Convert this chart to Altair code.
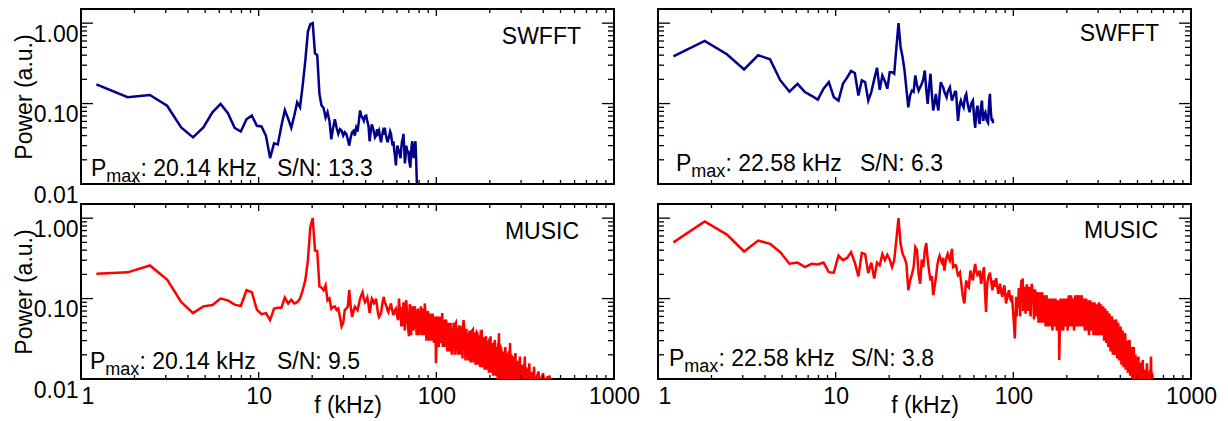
import altair as alt
import pandas as pd

# FFT bin width in kHz (10 MHz sampling, 16384-point window)
DF_KHZ = 0.6103515625

# ---------------- SWFFT, shot A (Pmax 20.14 kHz) ----------------
swfft_a_bins = list(range(2, 129))
swfft_a_power = [
    .173, .12, .128, .094, .0506, .038, .0506, .078, .099, .076,
    .05, .045, .064, .071, .053, .052, .04, .021, .032, .031,
    .053, .083, .065, .05, .071, .104, .09, .17, .345, .78,
    .97, 1.0, .42, .40, .133, .095, .088, .067, .078, .061,
    .036, .05, .064, .05, .042, .048, .046, .04, .044, .042,
    .036, .03, .038, .044, .046, .04, .05, .045, .06, .082,
    .07, .066, .061, .07, .071, .06, .053, .034, .045, .055,
    .05, .044, .038, .04, .048, .043, .046, .038, .033, .04,
    .045, .041, .05, .042, .037, .033, .036, .04, .045, .042,
    .035, .03, .034, .026, .022, .017, .024, .03, .027, .026,
    .023, .021, .028, .034, .036, .042, .028, .018, .022, .03,
    .027, .024, .026, .02, .018, .016, .024, .03, .034, .027,
    .021, .026, .03, .034, .022, .012, .008,
]

# ---------------- SWFFT, shot B (Pmax 22.58 kHz) ----------------
swfft_b_bins = list(range(2, 127))
swfft_b_power = [
    .387, .60, .41, .266, .40, .355, .194, .141, .176, .139,
    .125, .112, .153, .185, .12, .109, .176, .21, .254, .24,
    .126, .194, .185, .109, .139, .20, .279, .148, .224, .19,
    .153, .245, .245, .235, .5, 1.0, .506, .38, .258, .15,
    .09, .126, .145, .14, .224, .17, .145, .16, .176, .2,
    .258, .15, .099, .16, .235, .13, .082, .1, .132, .1,
    .082, .13, .185, .17, .16, .14, .13, .12, .14, .15,
    .16, .13, .109, .12, .13, .14, .139, .09, .061, .08,
    .1, .109, .1, .095, .09, .11, .125, .132, .11, .095,
    .085, .078, .09, .1, .105, .109, .08, .06, .05, .07,
    .085, .094, .075, .06, .056, .075, .095, .109, .08, .061,
    .07, .075, .078, .07, .062, .06, .058, .08, .11, .132,
    .09, .07, .061, .065, .057,
]

# ---------------- MUSIC, shot A ----------------
music_a_bins = list(range(2, 101))
music_a_power = [
    .204, .212, .258, .172, .091, .066, .08, .083, .10, .095,
    .084, .081, .127, .12, .073, .064, .066, .054, .075, .077,
    .077, .103, .087, .097, .087, .09, .10, .127, .17, .298,
    .77, 1.0, .396, .39, .142, .137, .127, .146, .095, .10,
    .075, .079, .08, .072, .075, .059, .045, .05, .072, .075,
    .079, .127, .08, .059, .07, .079, .075, .072, .085, .10,
    .11, .12, .1, .09, .095, .103, .085, .066, .08, .10,
    .095, .087, .09, .10, .08, .065, .059, .062, .066, .08,
    .095, .105, .09, .085, .079, .072, .068, .075, .08, .087,
    .075, .068, .062, .07, .072, .075, .065, .058, .054,
]
music_a_tail = [
    (102, .07), (103, .079), (105, .06), (106, .045), (108, .07), (110, .087),
    (112, .066), (113, .05), (115, .034), (117, .079), (119, .065), (121, .057),
    (123, .075), (125, .062), (128, .05), (130, .045), (133, .059), (135, .07),
    (137, .051), (139, .065), (141, .087), (143, .06), (145, .043), (148, .05),
    (150, .034), (152, .045), (155, .054), (158, .04), (160, .045), (163, .0157),
    (165, .035), (167, .049), (170, .04), (172, .037), (175, .05), (177, .066),
    (179, .045), (181, .034), (184, .04), (187, .045), (190, .035), (193, .0305),
    (196, .042), (198, .039), (201, .028), (203, .024), (206, .038), (210, .049),
    (212, .035), (214, .0305), (218, .04), (221, .045), (224, .03), (228, .034),
    (231, .045), (233, .054), (237, .03), (240, .021), (243, .03), (246, .037),
    (250, .03), (254, .025), (258, .033), (263, .041), (267, .028), (271, .019),
    (275, .03), (279, .037), (283, .026), (287, .0305), (291, .036), (295, .041),
    (300, .028), (304, .021), (308, .03), (312, .034), (316, .024), (321, .025),
    (326, .032), (331, .034), (335, .022), (339, .017), (344, .026), (350, .0305),
    (355, .024), (360, .019), (365, .028), (369, .037), (374, .027), (380, .025),
    (385, .02), (391, .017), (396, .022), (401, .025), (407, .02), (413, .0142),
    (419, .022), (426, .028), (433, .02), (441, .019), (449, .017), (457, .021),
    (463, .016), (470, .013), (477, .017), (484, .019), (492, .015), (500, .0142),
    (508, .012), (516, .019), (523, .014), (531, .0118), (539, .013), (547, .0157),
    (555, .012), (563, .0118), (572, .011), (582, .0142), (590, .01), (598, .0096),
    (606, .011), (615, .0124), (625, .0095), (635, .009), (644, .0105), (653, .0118),
    (662, .0095), (672, .009), (690, .0105), (710, .0107), (730, .008), (760, .007),
    (800, .006), (900, .005), (1000, .004),
]
# intermediate bins of shot A's noisy high-frequency band
music_a_fill = [
    (101, .1), (104, .045), (107, .09), (109, .04), (111, .095), (114, .04),
    (116, .085), (118, .035), (120, .08), (122, .04), (124, .08), (127, .035),
    (129, .075), (131, .035), (134, .08), (136, .035), (138, .075), (140, .035),
    (142, .07), (144, .03), (147, .07), (149, .03), (151, .065), (154, .03),
    (156, .065), (159, .028), (162, .06), (164, .025), (166, .06), (169, .025),
    (171, .06), (174, .028), (176, .055), (178, .025), (180, .055), (183, .025),
    (186, .055), (189, .022), (192, .05), (195, .022), (197, .05), (200, .02),
    (205, .05), (208, .02), (211, .05), (216, .02), (220, .045), (223, .02),
    (226, .045), (230, .018), (235, .045), (239, .017), (242, .042), (248, .017),
    (252, .04), (256, .016), (261, .04), (265, .016), (269, .038), (273, .015),
    (277, .038), (281, .015), (285, .035), (289, .014), (293, .035), (298, .014),
    (302, .033), (306, .013), (310, .032), (314, .013), (318, .03), (324, .012),
    (329, .03), (333, .012), (337, .028), (342, .011), (347, .027), (352, .011),
    (358, .025), (363, .01), (367, .025), (372, .01), (377, .023), (383, .0095),
    (388, .022), (394, .009), (399, .021), (404, .009), (410, .02), (416, .0085),
    (423, .019), (430, .0085), (437, .018), (445, .008), (453, .017), (460, .008),
    (467, .016), (474, .008), (481, .015), (488, .008), (496, .014), (504, .008),
    (512, .013), (520, .008), (527, .013), (535, .007), (543, .012), (551, .007),
    (559, .012), (568, .007), (577, .011), (586, .007),
]

# ---------------- MUSIC, shot B ----------------
music_b_bins = list(range(2, 109))
music_b_power = [
    .50, .91, .625, .385, .527, .48, .377, .271, .28, .246,
    .271, .265, .28, .213, .21, .343, .30, .32, .377, .28,
    .189, .37, .357, .207, .28, .178, .28, .258, .357, .30,
    .35, .306, .246, .30, .55, 1.0, .48, .36, .32, .27,
    .127, .168, .2, .246, .436, .40, .2, .153, .306, .246,
    .4, .49, .306, .22, .168, .19, .11, .14, .18, .25,
    .306, .34, .3, .28, .32, .223, .28, .33, .36, .32,
    .297, .35, .416, .246, .25, .26, .258, .22, .195, .2,
    .21, .17, .137, .11, .095, .087, .13, .168, .15, .14,
    .137, .18, .223, .2, .18, .168, .2, .24, .27, .23,
    .21, .195, .2, .21, .223, .18, .153,
]
music_b_tail = [
    (110, .2), (112, .246), (113, .15), (115, .068), (116, .11), (117, .16),
    (119, .19), (121, .21), (123, .16), (125, .127), (127, .168), (129, .14),
    (131, .18), (133, .14), (135, .115), (138, .153), (140, .12), (142, .105),
    (144, .13), (146, .146), (149, .087), (152, .11), (155, .127), (157, .1),
    (159, .095), (161, .11), (163, .072), (165, .05), (167, .032), (169, .07),
    (170, .105), (172, .09), (174, .079), (177, .1), (180, .127), (183, .15),
    (185, .178), (188, .12), (190, .095), (193, .11), (196, .137), (200, .1),
    (203, .079), (206, .11), (208, .153), (212, .11), (215, .087), (219, .1),
    (222, .115), (225, .09), (228, .072), (232, .09), (236, .105), (240, .09),
    (243, .079), (247, .085), (250, .095), (254, .075), (258, .059), (262, .075),
    (266, .087), (270, .065), (273, .054), (277, .07), (281, .079), (285, .07),
    (290, .066), (294, .04), (297, .0172), (300, .05), (303, .072), (307, .065),
    (311, .059), (315, .07), (320, .079), (324, .065), (329, .054), (333, .07),
    (338, .087), (343, .09), (348, .095), (353, .07), (358, .054), (362, .07),
    (367, .087), (372, .09), (378, .095), (383, .08), (389, .072), (394, .085),
    (399, .10), (405, .07), (411, .054), (418, .065), (424, .079), (429, .06),
    (434, .045), (440, .06), (447, .072), (453, .06), (460, .049), (466, .06),
    (472, .072), (479, .055), (486, .041), (493, .06), (500, .079), (506, .06),
    (513, .045), (520, .058), (528, .072), (535, .05), (543, .037), (550, .048),
    (557, .059), (565, .04), (574, .0305), (582, .042), (591, .054), (598, .035),
    (606, .025), (615, .035), (624, .049), (633, .035), (643, .028), (651, .034),
    (660, .041), (670, .03), (679, .023), (689, .03), (699, .037), (708, .025),
    (717, .019), (728, .025), (739, .0305), (750, .02), (761, .0142), (771, .02),
    (781, .025), (792, .017), (804, .013), (816, .016), (829, .019), (840, .014),
    (851, .0107), (864, .014), (877, .0172), (890, .012), (902, .0097), (914, .012),
    (926, .0157), (938, .011), (950, .0095), (963, .013), (976, .019), (988, .012),
    (999, .0097),
]
# intermediate bins of shot B's noisy high-frequency band
music_b_fill = [
    (171, .06), (176, .135), (179, .06), (182, .17), (186, .07), (189, .14),
    (192, .065), (195, .15), (198, .07), (201, .14), (205, .06), (210, .13),
    (214, .055), (217, .13), (221, .06), (224, .12), (227, .05), (230, .12),
    (234, .05), (238, .12), (242, .05), (245, .11), (249, .045), (252, .11),
    (256, .045), (260, .1), (264, .045), (268, .1), (272, .04), (275, .1),
    (279, .045), (283, .1), (288, .04), (292, .095), (296, .045), (302, .1),
    (305, .04), (309, .1), (313, .04), (318, .1), (322, .045), (327, .1),
    (331, .04), (336, .11), (341, .045), (346, .11), (351, .045), (356, .1),
    (360, .04), (365, .11), (370, .045), (375, .11), (381, .045), (386, .11),
    (392, .045), (397, .11), (402, .045), (408, .1), (414, .04), (421, .1),
    (427, .04), (432, .095), (437, .035), (444, .095), (450, .04), (456, .09),
    (463, .035), (469, .09), (476, .035), (483, .085), (490, .035), (497, .09),
    (503, .035), (510, .085), (517, .035), (524, .08), (531, .03), (539, .075),
    (547, .028), (554, .07), (561, .025), (569, .065), (578, .022), (587, .06),
    (595, .02), (603, .055), (611, .02), (620, .055), (629, .018), (638, .05),
    (647, .017), (656, .045), (665, .015), (675, .04), (684, .014), (694, .035),
    (703, .013), (713, .03), (722, .012), (733, .028), (745, .011), (756, .025),
    (766, .01), (776, .022), (787, .009), (798, .02), (810, .009), (822, .017),
    (835, .008), (846, .016), (858, .008), (870, .014), (884, .008), (896, .013),
    (908, .008), (920, .012), (932, .008), (944, .012), (956, .008), (970, .012),
    (982, .008), (994, .011),
]

# axis tick positions
x_major = [1, 10, 100, 1000]
x_minor = [2, 3, 4, 5, 6, 7, 8, 9, 20, 30, 40, 50, 60, 70, 80, 90,
           200, 300, 400, 500, 600, 700, 800, 900]
y_major = [0.01, 0.1, 1.0]
y_minor = [0.02, 0.03, 0.04, 0.05, 0.06, 0.07, 0.08, 0.09,
           0.2, 0.3, 0.4, 0.5, 0.6, 0.7, 0.8, 0.9]

NAVY = "#00008b"
RED = "#ff0000"
FONT = "Liberation Sans"
FS = 23
W, H = 533, 175

X_SCALE = alt.Scale(type="log", domain=[1, 1000], nice=False)
Y_SCALE = alt.Scale(type="log", domain=[0.01, 1.5], nice=False)
ONE = pd.DataFrame({"k": [0]})


def spectrum(bins, power, *extra):
    pairs = list(zip(bins, power))
    for part in extra:
        pairs += list(part)
    pairs.sort()
    return pd.DataFrame({"f": [n * DF_KHZ for n, _ in pairs], "P": [p for _, p in pairs]})


def inward_ticks(x_axis, y_axis):
    """Tick marks drawn inside the frame on all four sides."""
    layers = []
    for vals, length in ((x_major, 7), (x_minor, 4)):
        base = alt.Chart(pd.DataFrame({"v": vals})).mark_rule(color="black", strokeWidth=1.3)
        ex = alt.X("v:Q", scale=X_SCALE, axis=x_axis)
        layers.append(base.encode(x=ex, y=alt.value(H), y2=alt.value(H - length)))
        layers.append(base.encode(x=ex, y=alt.value(0), y2=alt.value(length)))
    for vals, length in ((y_major, 12), (y_minor, 6)):
        base = alt.Chart(pd.DataFrame({"v": vals})).mark_rule(color="black", strokeWidth=1.3)
        ey = alt.Y("v:Q", scale=Y_SCALE, axis=y_axis)
        layers.append(base.encode(y=ey, x=alt.value(0), x2=alt.value(length)))
        layers.append(base.encode(y=ey, x=alt.value(W), x2=alt.value(W - length)))
    return layers


def text(s, x, y, size=FS, align="left"):
    return alt.Chart(ONE).mark_text(
        text=s, font=FONT, fontSize=size, align=align, baseline="alphabetic", color="black"
    ).encode(x=alt.value(x), y=alt.value(y))


def panel(df, color, method, method_xy, pmax, sn, p_xy, sn_x, show_x, show_y):
    if show_x:
        x_axis = alt.Axis(
            values=x_major, format="d", ticks=False, tickSize=0, domain=False, grid=False,
            labelPadding=6, labelFlush=False, labelOverlap=False,
            labelAlign={"condition": {"test": "datum.value <= 1", "value": "left"}, "value": "center"},
            title="f (kHz)", titleY=33, titleBaseline="alphabetic",
        )
    else:
        x_axis = None
    if show_y:
        y_axis = alt.Axis(
            values=y_major, format=".2f", ticks=False, tickSize=0, domain=False, grid=False,
            labelBaseline="top", labelPadding=3, labelOverlap=False,
            title="Power (a.u.)", titleX=-50, titleY=H / 2, titleBaseline="alphabetic",
        )
    else:
        y_axis = None

    line = alt.Chart(df).mark_line(color=color, strokeWidth=2.5, clip=True).encode(
        x=alt.X("f:Q", scale=X_SCALE, axis=x_axis),
        y=alt.Y("P:Q", scale=Y_SCALE, axis=y_axis),
    )
    px, py = p_xy
    layers = [line] + inward_ticks(x_axis, y_axis) + [
        text(method, method_xy[0], method_xy[1], align="right"),
        text("P", px, py),
        text("max", px + 15.3, py + 6, size=18),
        text(": " + pmax + " kHz", px + 49.5, py),
        text("S/N: " + sn, sn_x, py),
    ]
    return alt.layer(*layers).properties(width=W, height=H)


top_left = panel(spectrum(swfft_a_bins, swfft_a_power), NAVY, "SWFFT", (500, 35),
                 "20.14", "13.3", (10, 167), 196, False, True)
top_right = panel(spectrum(swfft_b_bins, swfft_b_power), NAVY, "SWFFT", (501, 32),
                  "22.58", "6.3", (18, 162), 202, False, False)
bottom_left = panel(spectrum(music_a_bins, music_a_power, music_a_tail, music_a_fill), RED,
                    "MUSIC", (498, 35), "20.14", "9.5", (9, 165), 196, True, True)
bottom_right = panel(spectrum(music_b_bins, music_b_power, music_b_tail, music_b_fill), RED,
                     "MUSIC", (500, 34), "22.58", "3.8", (11, 162), 193, True, False)

chart = alt.concat(
    top_left, top_right, bottom_left, bottom_right,
    columns=2, spacing={"row": 20, "column": 44}, bounds="flush",
).properties(
    padding={"left": 12, "top": 7, "right": 5, "bottom": 5},
    background="white",
).configure_view(
    stroke="black", strokeWidth=2
).configure_axis(
    labelFont=FONT, labelFontSize=FS, labelColor="black",
    titleFont=FONT, titleFontSize=FS, titleColor="black", titleFontWeight="normal",
)

chart.save("out.html", embed_options={"renderer": "svg", "actions": False})
